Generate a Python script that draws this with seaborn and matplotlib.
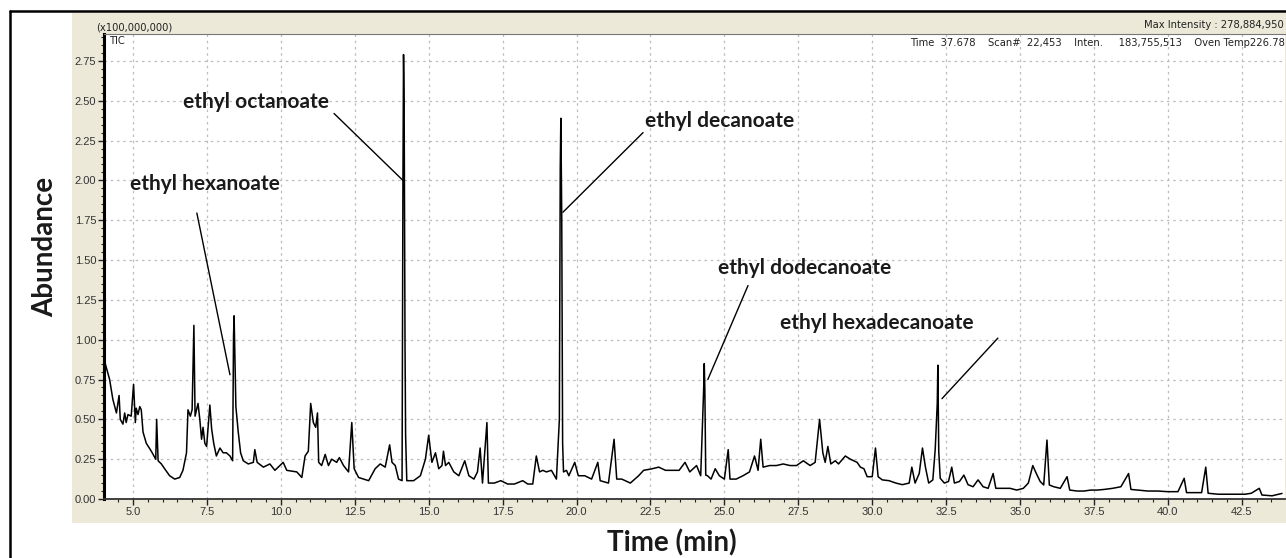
import numpy as np
import pandas as pd
import seaborn as sns
from matplotlib import pyplot as plt
from matplotlib.patches import Rectangle
from matplotlib.lines import Line2D
from matplotlib.ticker import MultipleLocator, FormatStrFormatter

# %% data (abundance in units of 1e8)

time_min = [4.04, 4.21, 4.32, 4.44, 4.53, 4.57, 4.66, 4.72, 4.77, 4.83, 4.94, 5.02, 5.08, 5.11, 5.17,
            5.23, 5.28, 5.34, 5.45, 5.62, 5.77, 5.80, 5.85, 5.96, 6.07, 6.24, 6.41, 6.58, 6.69, 6.81,
            6.86, 6.94, 7.00, 7.03, 7.06, 7.10, 7.20, 7.26, 7.32, 7.37, 7.43, 7.49, 7.60, 7.66, 7.73,
            7.82, 7.94, 8.05, 8.16, 8.28, 8.37, 8.40, 8.42, 8.48, 8.56, 8.64, 8.73, 8.90, 9.07, 9.12,
            9.20, 9.41, 9.63, 9.80, 10.08, 10.20, 10.54, 10.71, 10.82, 10.93, 11.01, 11.10, 11.18, 11.24, 11.28,
            11.38, 11.50, 11.61, 11.72, 11.89, 11.98, 12.12, 12.29, 12.40, 12.48, 12.63, 12.80, 12.97, 13.19, 13.36,
            13.53, 13.68, 13.76, 13.87, 13.98, 14.10, 14.13, 14.15, 14.17, 14.20, 14.22, 14.26, 14.49, 14.72, 14.89,
            15.00, 15.11, 15.23, 15.34, 15.45, 15.50, 15.57, 15.68, 15.85, 16.02, 16.22, 16.36, 16.53, 16.65, 16.74,
            16.82, 16.97, 17.02, 17.22, 17.44, 17.67, 17.90, 18.18, 18.35, 18.52, 18.64, 18.75, 18.86, 18.98, 19.15,
            19.32, 19.42, 19.45, 19.47, 19.50, 19.53, 19.56, 19.66, 19.74, 19.94, 20.06, 20.28, 20.51, 20.72, 20.80,
            21.08, 21.27, 21.36, 21.53, 21.82, 22.10, 22.27, 22.56, 22.78, 23.01, 23.24, 23.47, 23.67, 23.83, 24.06,
            24.20, 24.30, 24.32, 24.34, 24.37, 24.43, 24.55, 24.69, 24.83, 25.00, 25.13, 25.19, 25.40, 25.63, 25.85,
            26.02, 26.14, 26.23, 26.31, 26.53, 26.76, 26.99, 27.22, 27.44, 27.67, 27.90, 28.07, 28.22, 28.33, 28.41,
            28.50, 28.60, 28.75, 28.86, 29.09, 29.26, 29.49, 29.60, 29.72, 29.83, 30.00, 30.11, 30.20, 30.34, 30.57,
            30.80, 31.02, 31.25, 31.34, 31.45, 31.59, 31.70, 31.80, 31.91, 32.05, 32.13, 32.20, 32.22, 32.25, 32.30,
            32.44, 32.58, 32.69, 32.78, 32.95, 33.10, 33.24, 33.41, 33.58, 33.75, 33.92, 34.09, 34.18, 34.43, 34.66,
            34.89, 35.11, 35.28, 35.43, 35.55, 35.68, 35.80, 35.91, 35.99, 36.14, 36.36, 36.59, 36.68, 36.93, 37.16,
            37.39, 37.61, 37.84, 38.13, 38.41, 38.67, 38.75, 38.98, 39.32, 39.66, 40.00, 40.34, 40.55, 40.63, 40.91,
            41.14, 41.28, 41.36, 41.70, 42.16, 42.61, 42.82, 43.09, 43.18, 43.52, 43.86]

abundance = [0.865, 0.75, 0.625, 0.54, 0.65, 0.50, 0.47, 0.54, 0.48, 0.53, 0.52, 0.72, 0.48, 0.57, 0.53,
             0.58, 0.56, 0.42, 0.35, 0.30, 0.25, 0.50, 0.24, 0.22, 0.19, 0.146, 0.125, 0.135, 0.18, 0.29,
             0.56, 0.52, 0.56, 0.83, 1.09, 0.52, 0.60, 0.50, 0.375, 0.45, 0.35, 0.33, 0.59, 0.44, 0.35,
             0.27, 0.32, 0.29, 0.29, 0.27, 0.24, 1.02, 1.15, 0.58, 0.42, 0.29, 0.24, 0.22, 0.23, 0.31,
             0.23, 0.20, 0.22, 0.18, 0.23, 0.18, 0.17, 0.135, 0.27, 0.30, 0.60, 0.48, 0.45, 0.54, 0.23,
             0.21, 0.28, 0.21, 0.25, 0.23, 0.26, 0.21, 0.17, 0.48, 0.19, 0.135, 0.125, 0.115, 0.19, 0.22,
             0.20, 0.34, 0.23, 0.21, 0.125, 0.115, 2.00, 2.79, 2.49, 0.97, 0.40, 0.115, 0.115, 0.146, 0.25,
             0.40, 0.23, 0.29, 0.19, 0.21, 0.30, 0.21, 0.23, 0.17, 0.146, 0.24, 0.146, 0.125, 0.17, 0.32,
             0.10, 0.48, 0.10, 0.10, 0.115, 0.094, 0.094, 0.115, 0.094, 0.094, 0.27, 0.17, 0.18, 0.17, 0.18,
             0.125, 0.50, 2.08, 2.39, 1.78, 0.35, 0.17, 0.18, 0.146, 0.23, 0.146, 0.146, 0.125, 0.23, 0.115,
             0.10, 0.375, 0.125, 0.125, 0.10, 0.146, 0.18, 0.19, 0.20, 0.18, 0.18, 0.18, 0.23, 0.17, 0.21,
             0.146, 0.69, 0.85, 0.69, 0.15, 0.146, 0.125, 0.19, 0.146, 0.125, 0.31, 0.125, 0.125, 0.146, 0.17,
             0.27, 0.18, 0.375, 0.20, 0.21, 0.21, 0.22, 0.21, 0.21, 0.24, 0.21, 0.23, 0.50, 0.29, 0.23,
             0.33, 0.22, 0.24, 0.22, 0.27, 0.25, 0.23, 0.20, 0.19, 0.14, 0.14, 0.32, 0.14, 0.12, 0.115,
             0.10, 0.09, 0.10, 0.20, 0.10, 0.16, 0.32, 0.20, 0.10, 0.12, 0.31, 0.60, 0.84, 0.30, 0.13,
             0.10, 0.11, 0.20, 0.10, 0.11, 0.15, 0.09, 0.077, 0.12, 0.077, 0.067, 0.16, 0.067, 0.067, 0.067,
             0.056, 0.067, 0.10, 0.21, 0.16, 0.11, 0.088, 0.37, 0.088, 0.077, 0.067, 0.14, 0.056, 0.05, 0.05,
             0.056, 0.056, 0.06, 0.067, 0.077, 0.16, 0.06, 0.056, 0.05, 0.05, 0.046, 0.046, 0.13, 0.04, 0.04,
             0.04, 0.20, 0.036, 0.03, 0.03, 0.03, 0.036, 0.067, 0.025, 0.02, 0.035]

# peak labels: text anchor (t, y) and leader line from -> to
peak_names = ['ethyl hexanoate', 'ethyl octanoate', 'ethyl decanoate',
              'ethyl dodecanoate', 'ethyl hexadecanoate']
label_xy = [(4.90, 1.98), (6.69, 2.49), (22.31, 2.37), (24.78, 1.45), (26.88, 1.105)]
leader_from = [(7.16, 1.795), (11.80, 2.42), (22.25, 2.30), (25.80, 1.34), (34.25, 1.01)]
leader_to = [(8.28, 0.78), (14.13, 2.00), (19.54, 1.80), (24.44, 0.75), (32.36, 0.63)]

dfTrace = pd.DataFrame({'Time': time_min, 'Abundance': abundance})

# %% figure

sns.set_style('white')
plt.rcParams['font.family'] = ['Liberation Sans', 'DejaVu Sans']

W, H = 1286, 558
fig = plt.figure(figsize=(W / 100, H / 100), dpi=100)

# beige instrument panel + black frame
fig.patches.append(Rectangle((72 / W, 1 - 523 / H), (W - 72) / W, (523 - 13) / H,
                             transform=fig.transFigure, facecolor='#ECE9D8',
                             edgecolor='none', zorder=-5))
fig.lines.append(Line2D([10 / W, 1], [1 - 11 / H, 1 - 11 / H], transform=fig.transFigure,
                        color='black', lw=1.8))
fig.lines.append(Line2D([10 / W, 10 / W], [0, 1 - 11 / H], transform=fig.transFigure,
                        color='black', lw=1.8))

ax = fig.add_axes([104 / W, 1 - 499 / H, (1285 - 104) / W, (499 - 34) / H])
ax.set_facecolor('white')
ax.set_zorder(2)

sns.lineplot(data=dfTrace, x='Time', y='Abundance', ax=ax, color='black',
             lw=1.1, sort=False, estimator=None)

ax.set_xlim(4.02, 43.96)
ax.set_ylim(0, 2.919)

ax.xaxis.set_major_locator(MultipleLocator(2.5))
ax.xaxis.set_minor_locator(MultipleLocator(0.5))
ax.yaxis.set_major_locator(MultipleLocator(0.25))
ax.yaxis.set_minor_locator(MultipleLocator(0.05))
ax.xaxis.set_major_formatter(FormatStrFormatter('%.1f'))
ax.yaxis.set_major_formatter(FormatStrFormatter('%.2f'))
ax.tick_params(axis='both', which='major', direction='out', length=4, width=1,
               labelsize=8, labelcolor='#333333', color='#222222', pad=1.5)
ax.tick_params(axis='both', which='minor', direction='out', length=2.5, width=0.8,
               color='#222222')
ax.tick_params(axis='x', which='both', bottom=True)
ax.tick_params(axis='y', which='both', left=True)

ax.grid(True, which='major', color='#bdbdbd', linestyle=(0, (2, 3)), lw=0.9)

ax.spines['left'].set_linewidth(2.2)
ax.spines['left'].set_color('black')
ax.spines['bottom'].set_linewidth(1.3)
ax.spines['bottom'].set_color('#333333')
ax.spines['top'].set_linewidth(0.8)
ax.spines['top'].set_color('#777777')
ax.spines['right'].set_visible(False)

ax.set_xlabel('')
ax.set_ylabel('')

# header texts of the instrument screen
hdr = dict(fontsize=7.2, color='#222222', family=['DejaVu Sans'])
fig.text(96 / W, 1 - 28 / H, '(x100,000,000)', va='center', ha='left', **hdr)
fig.text(1284 / W, 1 - 25 / H, 'Max Intensity : 278,884,950', va='center', ha='right', **hdr)
ax.text(1.0, 1 - 9 / 465,
        'Time  37.678    Scan#  22,453    Inten.     183,755,513    Oven Temp226.78',
        va='center', ha='right', transform=ax.transAxes, **hdr)
ax.text(0.004, 1 - 7 / 465, 'TIC', va='center', ha='left', transform=ax.transAxes, **hdr)

# peak annotations
lab = dict(fontsize=15, fontweight='bold', family=['Lato', 'DejaVu Sans'], color='#1a1a1a')
for name, txy, p0, p1 in zip(peak_names, label_xy, leader_from, leader_to):
    ax.text(txy[0], txy[1], name, ha='left', va='center', **lab)
    ax.annotate('', xy=p1, xytext=p0,
                arrowprops=dict(arrowstyle='-', color='black', lw=1.0,
                                shrinkA=0, shrinkB=0))

axlab = dict(lab, fontsize=20)
fig.text(45 / W, 1 - 247 / H, 'Abundance', rotation=90, ha='center', va='center', **axlab)
fig.text(672 / W, 1 - 543 / H, 'Time (min)', ha='center', va='center', **axlab)

fig.savefig('out.png', dpi=100)
